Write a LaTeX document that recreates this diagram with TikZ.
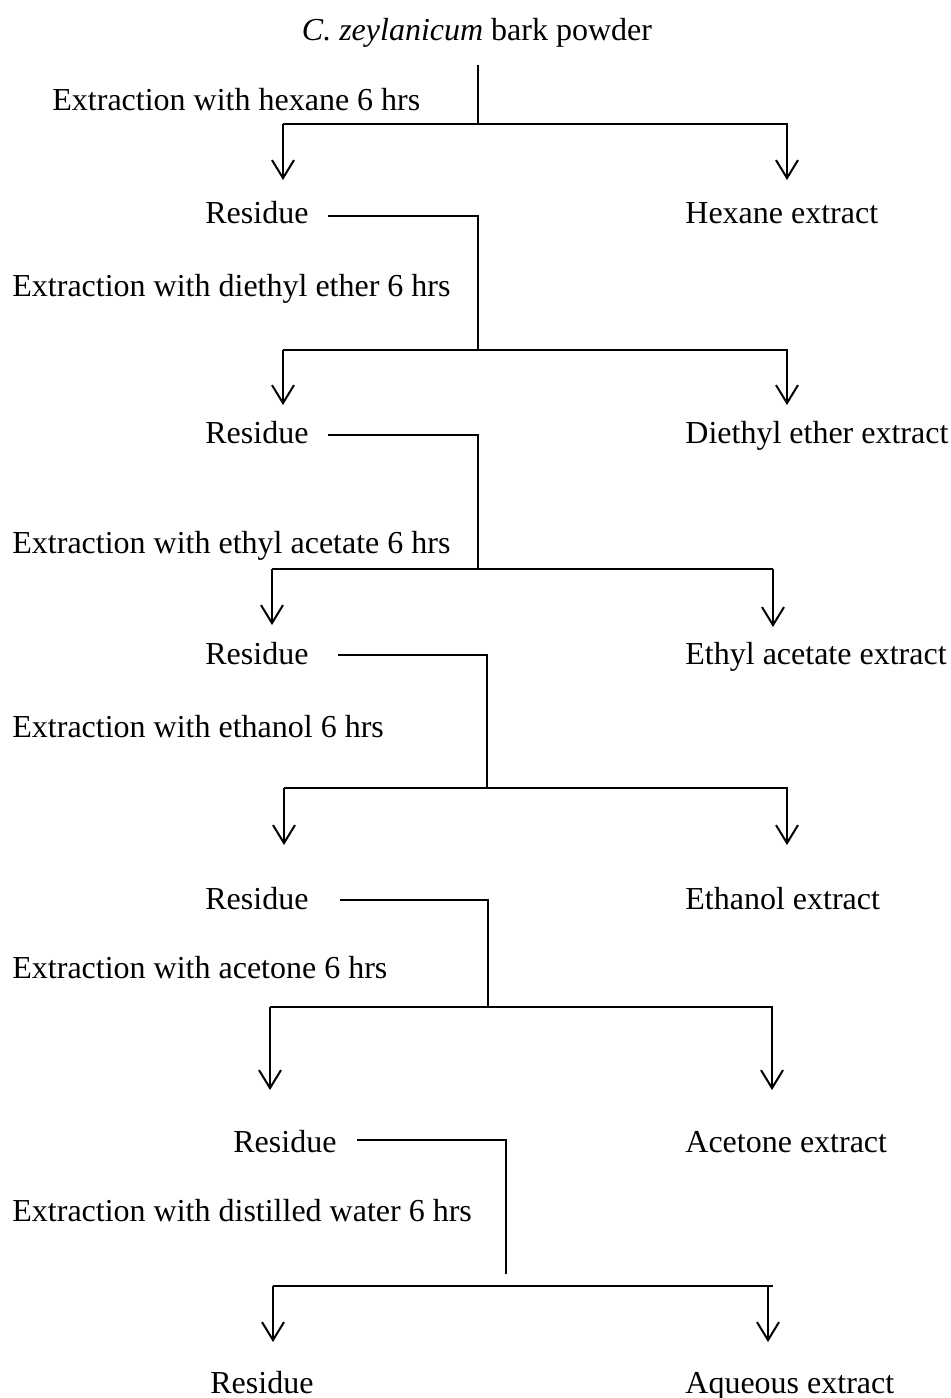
\documentclass[tikz,border=0pt]{standalone}
\usepackage{fontspec}
\setmainfont{Liberation Serif}
\usetikzlibrary{arrows.meta}
\begin{document}
\begin{tikzpicture}[x=0.5pt,y=-0.5pt,
  lbl/.style={inner sep=0pt,anchor=mid west,yshift=-3pt,font=\fontsize{16pt}{18pt}\selectfont},
  ln/.style={line width=1pt},
  arr/.style={line width=1pt,-{Straight Barb[length=9pt,width=11pt,line width=1pt]}}]
\useasboundingbox (0,0) rectangle (951,1398);
% texts
\node[lbl,anchor=mid] (title) at (477,30) {\textit{C. zeylanicum} bark powder};
\node[lbl] (e1) at (52,100) {Extraction with hexane 6 hrs};
\node[lbl] (r1) at (205,213) {Residue};
\node[lbl] (x1) at (685,213) {Hexane extract};
\node[lbl] (e2) at (12,286) {Extraction with diethyl ether 6 hrs};
\node[lbl] (r2) at (205,433) {Residue};
\node[lbl] (x2) at (685,433) {Diethyl ether extract};
\node[lbl] (e3) at (12,543) {Extraction with ethyl acetate 6 hrs};
\node[lbl] (r3) at (205,654) {Residue};
\node[lbl] (x3) at (685,654) {Ethyl acetate extract};
\node[lbl] (e4) at (12,727) {Extraction with ethanol 6 hrs};
\node[lbl] (r4) at (205,899) {Residue};
\node[lbl] (x4) at (685,899) {Ethanol extract};
\node[lbl] (e5) at (12,968) {Extraction with acetone 6 hrs};
\node[lbl] (r5) at (233,1142) {Residue};
\node[lbl] (x5) at (685,1142) {Acetone extract};
\node[lbl] (e6) at (12,1211) {Extraction with distilled water 6 hrs};
\node[lbl] (r6) at (210,1383) {Residue};
\node[lbl] (x6) at (685,1383) {Aqueous extract};
% coordinates
\coordinate (s1) at (478,65);   \coordinate (j1) at (478,124);
\coordinate (s2) at (328,216);  \coordinate (c2) at (478,216); \coordinate (j2) at (478,350);
\coordinate (s3) at (328,435);  \coordinate (c3) at (478,435); \coordinate (j3) at (478,569);
\coordinate (s4) at (338,655);  \coordinate (c4) at (487,655); \coordinate (j4) at (487,788);
\coordinate (s5) at (340,900);  \coordinate (c5) at (488,900); \coordinate (j5) at (488,1007);
\coordinate (s6) at (357,1140); \coordinate (c6) at (506,1140); \coordinate (j6) at (506,1274);
% stage 1
\draw[ln] (s1) -- (j1);
\draw[ln] (283,124) -- (788,124);
\draw[arr] (283,124) -- (283,180);
\draw[arr] (787,124) -- (787,180);
% stage 2
\draw[ln] (s2) -- (c2) -- (j2);
\draw[ln] (283,350) -- (788,350);
\draw[arr] (283,350) -- (283,405);
\draw[arr] (787,350) -- (787,405);
% stage 3
\draw[ln] (s3) -- (c3) -- (j3);
\draw[ln] (272,569) -- (773,569);
\draw[arr] (272,569) -- (272,625);
\draw[arr] (773,569) -- (773,627);
% stage 4
\draw[ln] (s4) -- (c4) -- (j4);
\draw[ln] (284,788) -- (788,788);
\draw[arr] (284,788) -- (284,845);
\draw[arr] (787,788) -- (787,845);
% stage 5
\draw[ln] (s5) -- (c5) -- (j5);
\draw[ln] (270,1007) -- (773,1007);
\draw[arr] (270,1007) -- (270,1090);
\draw[arr] (772,1007) -- (772,1090);
% stage 6
\draw[ln] (s6) -- (c6) -- (j6);
\draw[ln] (273,1286) -- (773,1286);
\draw[arr] (273,1286) -- (273,1342);
\draw[arr] (768,1286) -- (768,1342);
\end{tikzpicture}
\end{document}
